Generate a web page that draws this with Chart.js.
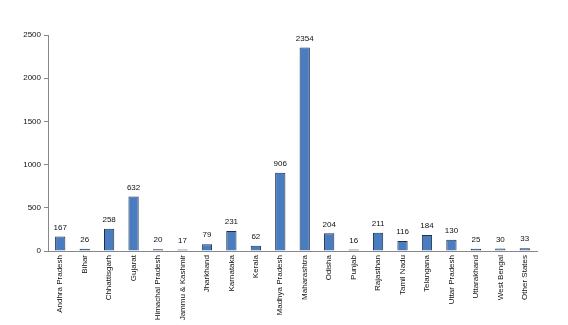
<!DOCTYPE html>
<html><head><meta charset="utf-8">
<script src="https://cdn.jsdelivr.net/npm/chart.js@4"></script>
<style>html,body{margin:0;padding:0;background:#fff}#w{width:568px;height:325px}</style>
</head><body><div id="w"><canvas id="c"></canvas></div>
<script>
const categories = ["Andhra Pradesh","Bihar","Chhattisgarh","Gujarat","Himachal Pradesh","Jammu & Kashmir","Jharkhand","Karnataka","Kerala","Madhya Pradesh","Maharashtra","Odisha","Punjab","Rajasthan","Tamil Nadu","Telangana","Uttar Pradesh","Uttarakhand","West Bengal","Other States"];
const values = [167,26,258,632,20,17,79,231,62,906,2354,204,16,211,116,184,130,25,30,33];
const yTicks = [0,500,1000,1500,2000,2500];

const labelPlugin = {
  id:'vlabels',
  afterDatasetsDraw(chart){
    const ctx = chart.ctx, meta = chart.getDatasetMeta(0);
    ctx.save();
    ctx.font = '8px "Liberation Sans"';
    ctx.fillStyle = '#111';
    ctx.textAlign = 'center';
    ctx.textBaseline = 'bottom';
    meta.data.forEach((b,i)=>{ ctx.fillText(String(values[i]), b.x, b.y - 5); });
    ctx.restore();
  }
};

new Chart(document.getElementById('c'), {
  type:'bar',
  data:{labels:categories, datasets:[{data:values, backgroundColor:'#4a7cc0', borderColor:'#1c2f4f', borderWidth:1, barPercentage:0.42, categoryPercentage:1}]},
  options:{
    responsive:true, maintainAspectRatio:false, animation:false,
    layout:{padding:{top:35,right:31,left:0,bottom:0}},
    plugins:{legend:{display:false}, tooltip:{enabled:false}},
    scales:{
      x:{
        grid:{display:false, drawTicks:false},
        border:{color:'#888', width:1},
        ticks:{color:'#111', font:{family:'Liberation Sans', size:8}, minRotation:90, maxRotation:90, autoSkip:false, padding:4},
        afterFit(s){ s.height = 74; }
      },
      y:{
        min:0, max:2500,
        afterBuildTicks(s){ s.ticks = yTicks.map(v=>({value:v})); },
        grid:{display:true, drawOnChartArea:false, drawTicks:true, tickLength:4, color:'#888'},
        border:{color:'#888', width:1},
        ticks:{color:'#111', font:{family:'Liberation Sans', size:8}, padding:3, callback:(v)=>String(v)},
        afterFit(s){ s.width = 48; }
      }
    }
  },
  plugins:[labelPlugin]
});
</script></body></html>
